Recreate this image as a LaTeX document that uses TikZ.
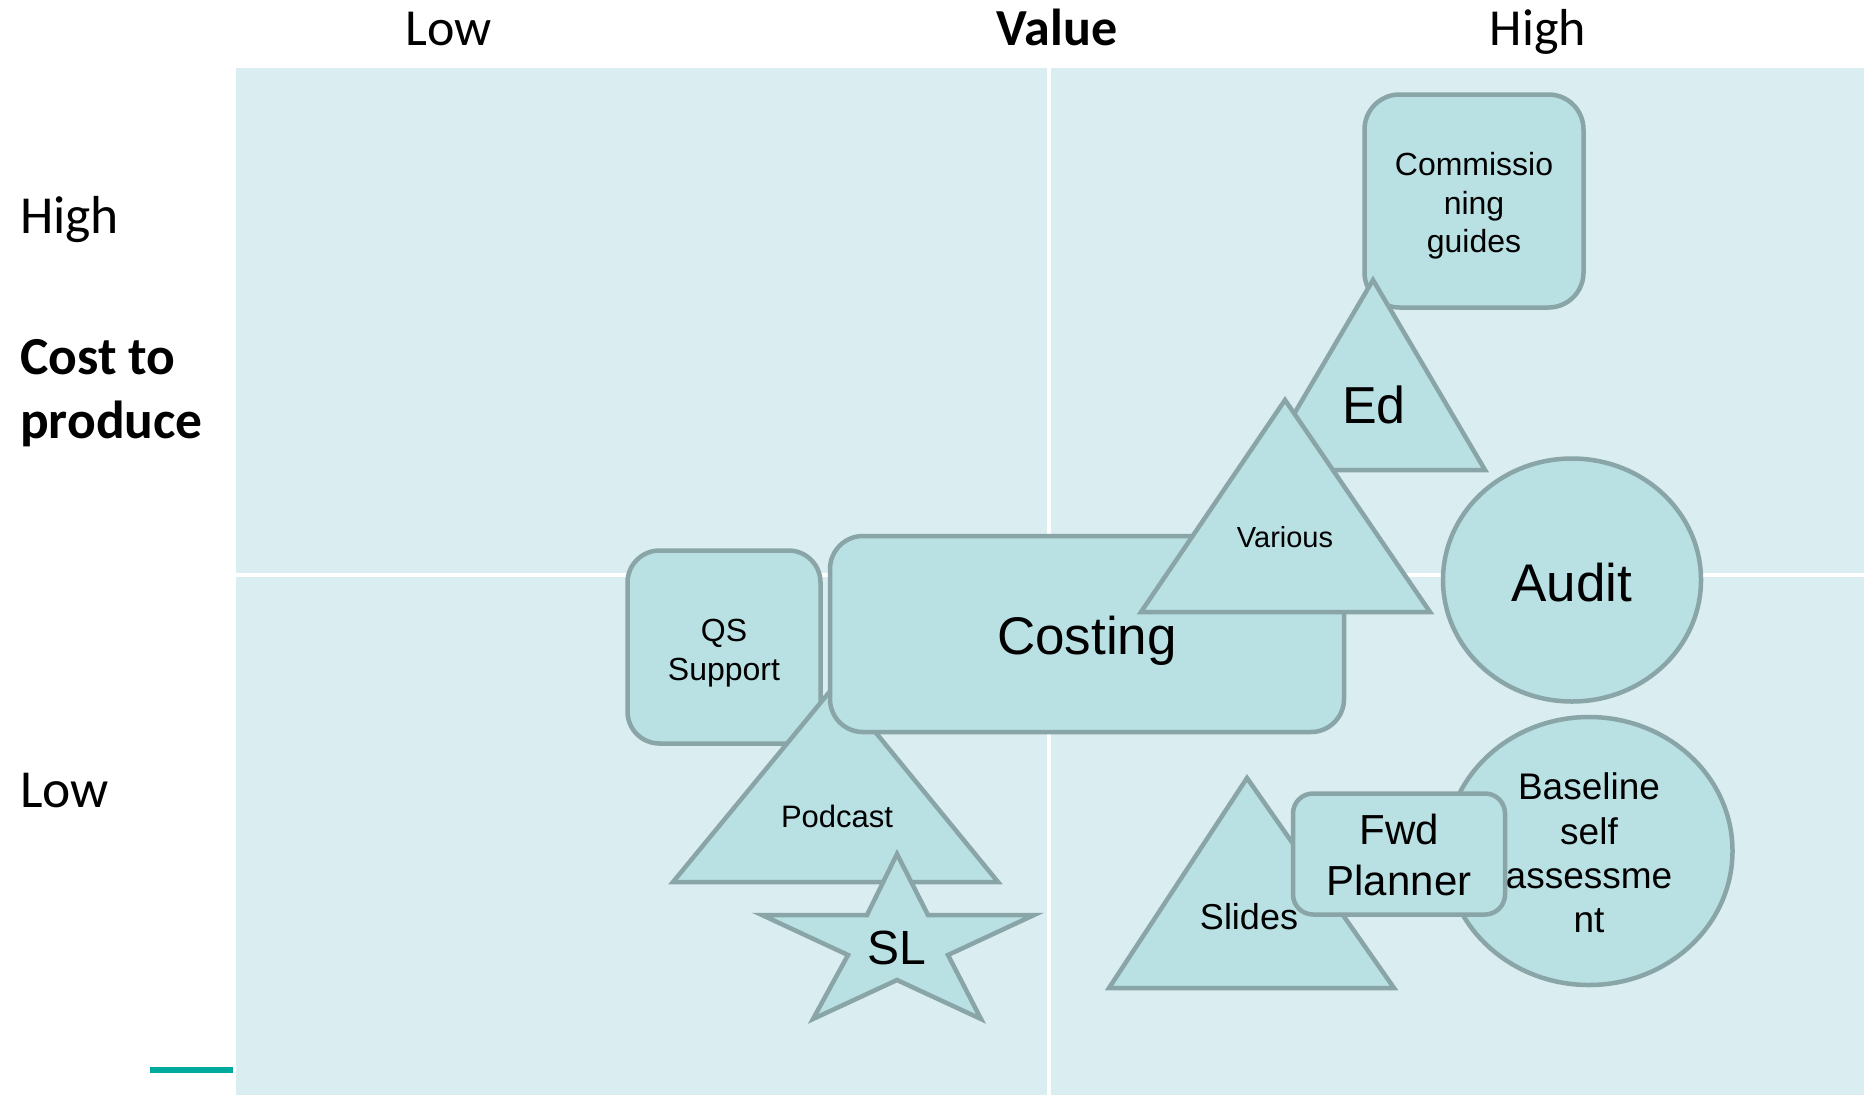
\documentclass[tikz,border=0pt]{standalone}
\usepackage{fontspec}
\setmainfont{Liberation Sans}
\newfontfamily\calfont{Carlito}
\usepackage{tikz}
\usetikzlibrary{shapes.geometric,positioning}
\usepackage{xcolor}
\definecolor{panelbg}{HTML}{DAEDF0}
\definecolor{shapefill}{HTML}{B9E0E3}
\definecolor{shapeline}{HTML}{89A5A7}
\definecolor{accent}{HTML}{00A99D}
\newcommand{\fs}[1]{\fontsize{#1}{1.2\dimexpr#1pt\relax}\selectfont}

\begin{document}
\begin{tikzpicture} [
    x = 1pt, y = -1pt,
    outline/.style = { fill = shapefill, draw = shapeline, line width = 4.5pt, line join = miter },
    card/.style = { outline, rectangle, inner sep = 0, align = center },
    blob/.style = { outline, ellipse, inner sep = 0, align = center },
    word/.style = { inner sep = 0, align = center },
    axis/.style = { inner sep = 0, font = \calfont\fs{52} }
    ]

    \useasboundingbox (0,0) rectangle (1867,1095);

    % quadrants
    \fill[panelbg] (236,68) rectangle (1864,1095);
    \draw[white, line width = 4pt] (1049,68) -- (1049,1095);
    \draw[white, line width = 4pt] (236,575) -- (1864,575);
    \draw[accent, line width = 6pt] (150,1070) -- (233,1070);

    % axis labels
    \node[axis, anchor = base] (vlow) at (449,45) {Low};
    \node[axis, anchor = base, font = \calfont\bfseries\fs{52}] (value) at (1057,45) {Value};
    \node[axis, anchor = base] (vhigh) at (1538,45) {High};
    \node[axis, anchor = base west, font = \calfont\fs{53.5}] (chigh) at (20,233) {High};
    \node[axis, anchor = north west, align = left, font = \calfont\bfseries\fontsize{53.5}{64}\selectfont] (cost) at (20,339) {Cost to\\produce};
    \node[axis, anchor = base west, font = \calfont\fs{53.5}] (clow) at (20,807) {Low};

    % items
    \node[card, minimum width = 219pt, minimum height = 213pt, rounded corners = 35pt, font = \fs{32}] (comm) at (1474,201) {};
    \node[word, font = \fs{32}] (commtext) at (1474,206) {Commissio\\ning\\guides};

    \draw[outline] (1373,280) -- (1485,470) -- (1261,470) -- cycle;
    \node[word, font = \fs{52}] (ed) at (1374,405) {Ed};

    \node[card, minimum width = 193pt, minimum height = 193pt, rounded corners = 32pt] (qs) at (724,647) {};
    \node[word, font = \fs{32}] (qstext) at (724,653) {QS\\Support};

    \draw[outline] (836,684) -- (998,882) -- (673,882) -- cycle;
    \node[word, font = \fs{31}] (podcast) at (837,816) {Podcast};

    \node[card, minimum width = 514pt, minimum height = 196pt, rounded corners = 33pt] (costing) at (1087,634) {};
    \node[word, font = \fs{53}] (costingtext) at (1087,641) {Costing};

    \draw[outline] (1285,400) -- (1430,612) -- (1141,612) -- cycle;
    \node[word, font = \fs{29}] (various) at (1285,537) {Various};

    \node[blob, minimum width = 258pt, minimum height = 243pt] (audit) at (1572,580) {};
    \node[word, font = \fs{53}] (audittext) at (1572,583) {Audit};

    \draw[outline] (897,854) -- (928,915) -- (1034,915) -- (948,955) -- (981,1019)
        -- (897,980) -- (813,1019) -- (848,955) -- (762,915) -- (867,915) -- cycle;
    \node[word, font = \fs{48}] (sl) at (897,948) {SL};

    \draw[outline] (1247,778) -- (1394,988) -- (1109,988) -- cycle;
    \node[word, font = \fs{36}] (slides) at (1249,917) {Slides};

    \node[blob, minimum width = 287pt, minimum height = 268pt] (baseline) at (1589,851) {};
    \node[word, font = \fs{37}] (baselinetext) at (1589,853) {Baseline\\self\\assessme\\nt};

    \node[card, minimum width = 212pt, minimum height = 121pt, rounded corners = 20pt] (fwd) at (1399,854) {};
    \node[word, font = \fs{42}] (fwdtext) at (1399,855) {Fwd\\Planner};
\end{tikzpicture}
\end{document}
